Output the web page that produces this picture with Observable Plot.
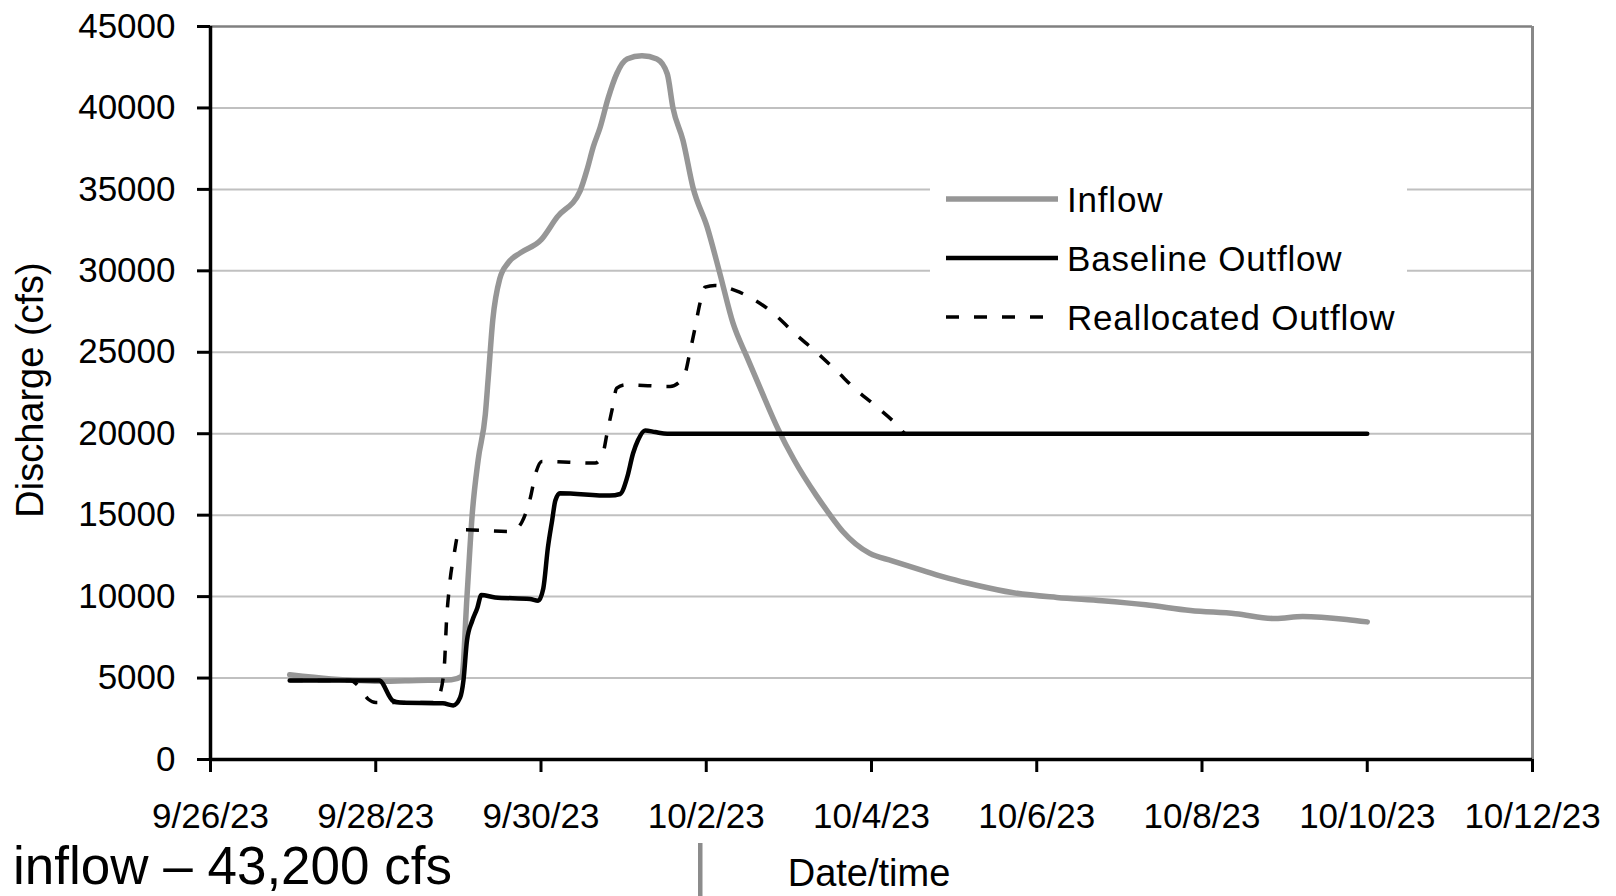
<!DOCTYPE html>
<html>
<head>
<meta charset="utf-8">
<script src="https://cdn.jsdelivr.net/npm/d3@7"></script>
<script src="https://cdn.jsdelivr.net/npm/@observablehq/plot@0.6"></script>
<style>
  html, body { margin: 0; padding: 0; background: white; overflow: hidden; }
  #chart { position: relative; width: 1616px; height: 896px; }
</style>
</head>
<body>
<div id="chart"></div>
<script>
// Reservoir inflow and outflow hydrographs, 9/26/23 – 10/12/23 (cfs)
const seriesNames = ["Inflow", "Baseline Outflow", "Reallocated Outflow"];

const inflowTimes = [
  "2023-09-26T23:00", "2023-09-27T11:00", "2023-09-28T01:00", "2023-09-28T12:00", "2023-09-28T22:00",
  "2023-09-29T01:00", "2023-09-29T02:30", "2023-09-29T04:00", "2023-09-29T05:45", "2023-09-29T07:50",
  "2023-09-29T08:40", "2023-09-29T10:00", "2023-09-29T12:00", "2023-09-29T14:30", "2023-09-29T18:00",
  "2023-09-30T00:00", "2023-09-30T04:40", "2023-09-30T11:20", "2023-09-30T13:30", "2023-09-30T15:10",
  "2023-09-30T17:10", "2023-09-30T19:30", "2023-09-30T22:00", "2023-10-01T01:00", "2023-10-01T05:20",
  "2023-10-01T09:40", "2023-10-01T12:40", "2023-10-01T14:20", "2023-10-01T17:15", "2023-10-01T20:10",
  "2023-10-02T00:15", "2023-10-02T04:00", "2023-10-02T07:45", "2023-10-02T11:50", "2023-10-02T15:40",
  "2023-10-02T20:50", "2023-10-03T01:30", "2023-10-03T08:00", "2023-10-03T11:40", "2023-10-03T15:40",
  "2023-10-03T23:30", "2023-10-04T06:00", "2023-10-04T15:00", "2023-10-04T22:45", "2023-10-05T06:30",
  "2023-10-05T16:50", "2023-10-06T05:50", "2023-10-06T19:00", "2023-10-07T07:40", "2023-10-07T20:40",
  "2023-10-08T09:45", "2023-10-08T21:20", "2023-10-09T05:15", "2023-10-09T18:00", "2023-10-10T00:00"
];
const inflowCfs = [
  5200, 4950, 4800, 4850, 4900,
  5100, 10000, 15000, 18400, 21200,
  23400, 27000, 29500, 30500, 31100,
  31900, 33300, 34900, 36300, 37600,
  38800, 40600, 42100, 43000, 43200,
  43000, 42100, 40000, 38000, 35100,
  32700, 29800, 26800, 24700, 22800,
  20300, 18400, 16200, 15100, 14000,
  12650, 12200, 11600, 11100, 10700,
  10250, 9950, 9750, 9500, 9150,
  8950, 8650, 8780, 8600, 8450
];

const baselineTimes = [
  "2023-09-26T23:00", "2023-09-28T01:00", "2023-09-28T05:00", "2023-09-28T07:00", "2023-09-28T19:30",
  "2023-09-28T22:30", "2023-09-29T00:30", "2023-09-29T01:30", "2023-09-29T02:30", "2023-09-29T04:00",
  "2023-09-29T05:30", "2023-09-29T06:40", "2023-09-29T10:40", "2023-09-29T20:50", "2023-09-29T23:10",
  "2023-09-30T00:40", "2023-09-30T02:00", "2023-09-30T03:15", "2023-09-30T04:10", "2023-09-30T05:30",
  "2023-09-30T20:00", "2023-09-30T23:00", "2023-10-01T01:00", "2023-10-01T02:45", "2023-10-01T04:10",
  "2023-10-01T06:15", "2023-10-01T09:10", "2023-10-01T12:40", "2023-10-10T00:00"
];
const baselineCfs = [
  4850, 4850, 3600, 3500, 3450,
  3320, 3800, 4900, 7300, 8500,
  9300, 10100, 9950, 9850, 9750,
  10500, 13000, 14700, 15900, 16350,
  16200, 16300, 17300, 18800, 19600,
  20200, 20100, 20000, 20000
];

const reallocTimes = [
  "2023-09-26T23:00", "2023-09-27T16:40", "2023-09-27T19:00", "2023-09-27T21:50", "2023-09-28T00:00",
  "2023-09-28T17:20", "2023-09-28T18:45", "2023-09-28T20:00", "2023-09-28T20:30", "2023-09-28T21:20",
  "2023-09-28T22:50", "2023-09-29T00:00", "2023-09-29T01:40", "2023-09-29T15:00", "2023-09-29T16:30",
  "2023-09-29T18:30", "2023-09-29T20:50", "2023-09-29T22:30", "2023-09-30T00:15", "2023-09-30T15:45",
  "2023-09-30T18:00", "2023-09-30T19:10", "2023-09-30T20:40", "2023-09-30T22:00", "2023-10-01T00:30",
  "2023-10-01T13:30", "2023-10-01T17:30", "2023-10-01T19:15", "2023-10-01T20:45", "2023-10-01T22:10",
  "2023-10-01T23:40", "2023-10-02T02:30", "2023-10-02T08:20", "2023-10-02T14:10", "2023-10-02T19:30",
  "2023-10-03T01:30", "2023-10-03T07:30", "2023-10-03T13:40", "2023-10-03T19:30", "2023-10-04T00:40",
  "2023-10-04T07:40", "2023-10-04T10:00", "2023-10-10T00:00"
];
const reallocCfs = [
  4850, 4850, 4500, 3700, 3500,
  3500, 4100, 6000, 8300, 10500,
  12700, 13900, 14100, 14000, 14100,
  14600, 16000, 17600, 18300, 18200,
  18800, 20000, 21500, 22800, 23000,
  22900, 23500, 25000, 26500, 28000,
  29000, 29100, 28800, 28200, 27400,
  26200, 25100, 23900, 22700, 21800,
  20500, 20000, 20000
];

// Axis ticks
const xTickDates = [
  "2023-09-26T00:00", "2023-09-28T00:00", "2023-09-30T00:00", "2023-10-02T00:00", "2023-10-04T00:00",
  "2023-10-06T00:00", "2023-10-08T00:00", "2023-10-10T00:00", "2023-10-12T00:00"
];
const yTicks = [0, 5000, 10000, 15000, 20000, 25000, 30000, 35000, 40000, 45000];

const parse = d3.utcParse("%Y-%m-%dT%H:%M");
const toRows = (times, values) => times.map((t, i) => ({date: parse(t), cfs: values[i]}));
const inflow = toRows(inflowTimes, inflowCfs);
const baseline = toRows(baselineTimes, baselineCfs);
const realloc = toRows(reallocTimes, reallocCfs);
const xTicks = xTickDates.map(parse);
const xDomain = [xTicks[0], xTicks[xTicks.length - 1]];
const yDomain = [yTicks[0], yTicks[yTicks.length - 1]];

const FONT = "'Liberation Sans', Arial, Helvetica, sans-serif";
const INFLOW_GREY = "#969696";
const DASH = "13,15";

const svg = Plot.plot({
  width: 1616,
  height: 896,
  marginLeft: 210,
  marginRight: 84,
  marginTop: 26,
  marginBottom: 137,
  style: {fontFamily: FONT, fontSize: "35px", color: "black", background: "white"},
  x: {type: "utc", domain: xDomain},
  y: {domain: yDomain},
  marks: [
    Plot.gridY(yTicks.slice(1, -1), {stroke: "#c0c0c0", strokeWidth: 2, strokeOpacity: 1}),
    Plot.ruleY([yDomain[1]], {stroke: "#808080", strokeWidth: 2.5}),
    Plot.ruleX([xDomain[1]], {stroke: "#888888", strokeWidth: 3}),
    Plot.line(inflow, {x: "date", y: "cfs", curve: "monotone-x", stroke: INFLOW_GREY, strokeWidth: 5.5}),
    Plot.line(baseline, {x: "date", y: "cfs", curve: "monotone-x", stroke: "black", strokeWidth: 4.5}),
    Plot.line(realloc, {x: "date", y: "cfs", curve: "monotone-x", stroke: "black", strokeWidth: 3.5,
                        strokeDasharray: DASH, strokeLinecap: "butt"}),
    Plot.ruleX([xDomain[0]], {stroke: "black", strokeWidth: 3.5}),
    Plot.ruleY([yDomain[0]], {stroke: "black", strokeWidth: 3.5}),
    Plot.axisY({ticks: yTicks, tickSize: 13, tickPadding: 22, strokeWidth: 3,
                tickFormat: (d) => String(d), label: null}),
    Plot.axisX({ticks: xTicks, tickSize: 13, tickPadding: 31, strokeWidth: 3,
                tickFormat: d3.utcFormat("%-m/%-d/%y"), label: null})
  ]
});

document.getElementById("chart").appendChild(svg);

// Axis titles, legend and annotation drawn on top of the plot
const g = d3.select(svg).append("g")
  .attr("font-family", FONT)
  .attr("fill", "black")
  .attr("text-anchor", "start");

g.append("text")
  .attr("transform", "translate(43,390) rotate(-90)")
  .attr("text-anchor", "middle")
  .attr("font-size", 38)
  .text("Discharge (cfs)");

g.append("text")
  .attr("x", 869).attr("y", 886)
  .attr("text-anchor", "middle")
  .attr("font-size", 38)
  .text("Date/time");

g.append("rect")
  .attr("x", 698).attr("y", 843).attr("width", 4.5).attr("height", 53)
  .attr("fill", "#8c8c8c");

g.append("text")
  .attr("x", 13).attr("y", 884)
  .attr("text-anchor", "start")
  .attr("font-size", 53)
  .text(`inflow \u2013 ${d3.format(",")(d3.max(inflowCfs))} cfs`);

// Legend
const legend = g.append("g");
legend.append("rect")
  .attr("x", 930).attr("y", 155).attr("width", 477).attr("height", 185)
  .attr("fill", "white");
const legendStyles = [
  {stroke: INFLOW_GREY, width: 5.5, dash: null},
  {stroke: "black", width: 4.5, dash: null},
  {stroke: "black", width: 3.5, dash: DASH}
];
seriesNames.forEach((name, i) => {
  const cy = 199 + i * 59;
  const s = legendStyles[i];
  legend.append("line")
    .attr("x1", 946).attr("x2", 1058).attr("y1", cy).attr("y2", cy)
    .attr("stroke", s.stroke).attr("stroke-width", s.width)
    .attr("stroke-dasharray", s.dash);
  legend.append("text")
    .attr("x", 1067).attr("y", cy + 12.5)
    .attr("text-anchor", "start")
    .attr("font-size", 35)
    .attr("letter-spacing", 0.8)
    .text(name);
});
</script>
</body>
</html>
